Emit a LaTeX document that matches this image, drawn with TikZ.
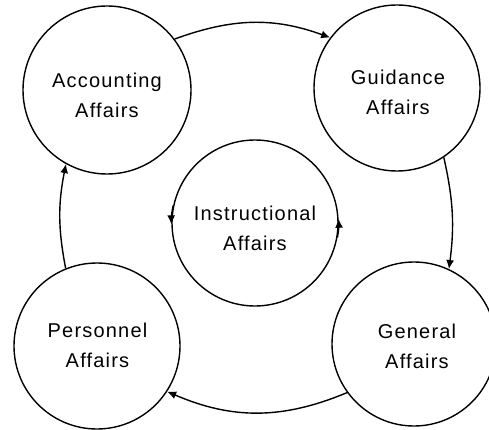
\documentclass[tikz,border=0pt]{standalone}
\usepackage{fontspec}
\setmainfont{Liberation Sans}[LetterSpace=6]
\usetikzlibrary{arrows.meta}
\begin{document}
\begin{tikzpicture}[x=1pt,y=1pt,
  unit/.style={circle,draw,line width=1.4pt,inner sep=0pt,minimum size=#1},
  lbl/.style={align=center,inner sep=0pt,font=\fontsize{20}{30}\selectfont},
  flow/.style={line width=1.4pt,-{Latex[length=9pt,width=8pt]}}]
\useasboundingbox (0,0) rectangle (489,429);
\fill[white] (0,0) rectangle (489,429);
\node[unit=168pt] (acc) at (107,339) {};
\node[unit=166pt] (gui) at (397,341) {};
\node[unit=166pt] (ins) at (255,206) {};
\node[unit=166pt] (per) at (97,83) {};
\node[unit=164pt] (gen) at (414,85) {};
\node[lbl] (accT) at (107,334) {Accounting\\Affairs};
\node[lbl] (guiT) at (398,337) {Guidance\\Affairs};
\node[lbl] (insT) at (255,201) {Instructional\\Affairs};
\node[lbl] (perT) at (97.5,84) {Personnel\\Affairs};
\node[lbl] (genT) at (417,83) {General\\Affairs};
\draw[flow] (acc.37) to[out=20,in=160] (gui.143);
\draw[flow] (gui.-56) to[bend left=10] (gen.65);
\draw[flow] (gen.216) to[bend left=23] (per.-33);
\draw[flow] (per.112) to[bend left=11] (acc.241);
\draw[flow] (ins.168) arc[start angle=168,end angle=181,radius=83];
\draw[flow] (ins.-10) arc[start angle=-10,end angle=3,radius=83];
\end{tikzpicture}
\end{document}
